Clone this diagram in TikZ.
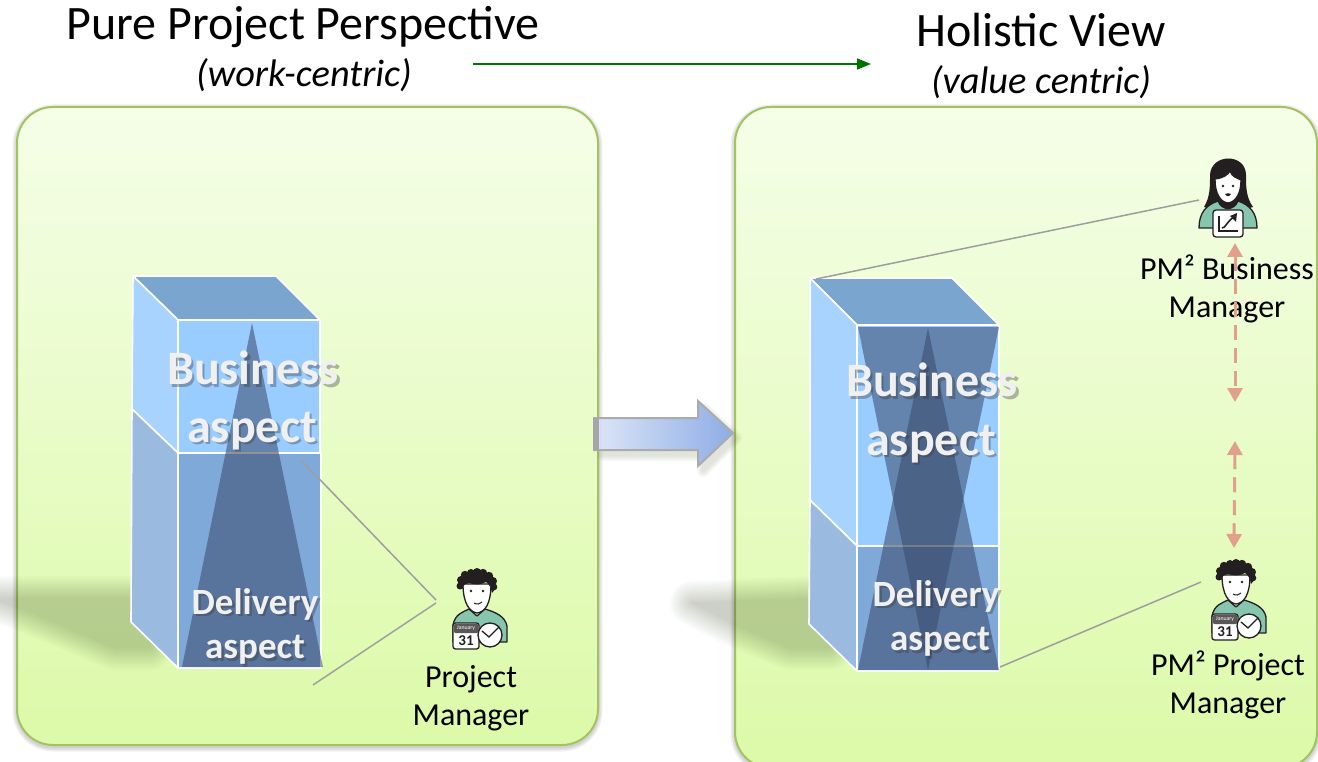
\documentclass[tikz,border=0pt]{standalone}
\usepackage{fontspec}
\setmainfont{Carlito}
\usetikzlibrary{arrows.meta}
\newcommand{\fsz}[1]{\fontsize{#1}{#1}\selectfont}
\definecolor{panelline}{HTML}{A3C262}
\definecolor{paneltop}{HTML}{F5FEE8}
\definecolor{panelbot}{HTML}{DCFAA8}
\definecolor{topface}{HTML}{7AA5CF}
\definecolor{leftup}{HTML}{A9D3FF}
\definecolor{frontup}{HTML}{99CCFF}
\definecolor{frontlow}{HTML}{7FA9D9}
\definecolor{leftlow}{HTML}{9ABBDF}
\definecolor{tri}{HTML}{3A496B}
\definecolor{teal}{HTML}{86C5AE}
\definecolor{ink}{HTML}{231F20}
\definecolor{pinkish}{HTML}{E0A08C}
\definecolor{arrowa}{HTML}{DCE6F6}
\definecolor{arrowb}{HTML}{8EADE6}
\definecolor{shadowtint}{HTML}{2A3A10}
\tikzset{
  panel/.style={draw=panelline,line width=2pt,rounded corners=36pt,top color=paneltop,bottom color=panelbot},
  face/.style={draw=white,line width=1.6pt,line join=round},
  triangleface/.style={fill=tri,fill opacity=.55},
  gline/.style={draw=black!38,line width=1.5pt},
  linkarrow/.style={draw=pinkish,line width=3pt,dash pattern=on 15pt off 8pt,{Triangle[length=14pt,width=15pt]}-{Triangle[length=14pt,width=15pt]}},
  plain/.style={text=black,align=center,inner sep=0pt},
  title/.style={plain,font=\fsz{48}},
  subtitle/.style={plain,font=\fsz{38.4}\itshape},
  lab/.style={plain,font=\fsz{32},text depth=0pt},
  aspect/.style={inner sep=0pt,align=center,font=\bfseries\fsz{#1}},
  iconline/.style={draw=ink,line width=1.3pt,line join=round},
}
% soft shadow: stacked translucent groups (fill and stroke count once per layer)
\newcommand{\softfill}[3]{%
  \foreach \w in {#3}{\begin{scope}[transparency group,opacity=#1]\fill[shadowtint,draw=shadowtint,line width=\w pt,line join=round] #2;\end{scope}}}
% aspect text with drop shadow
\newcommand{\aspecttext}[4]{%
  \node[aspect=#3,text=black!80,opacity=.35] (#1s) at ([shift={(2.5pt,-2.5pt)}]#2) {#4};
  \node[aspect=#3,text=white!94!black] (#1) at (#2) {#4};}
% the project manager figure, (0,0) at the head centre
\newcommand{\manicon}[3]{%
\begin{scope}[shift={(#1,#2)}]
  \fill[teal,iconline] (-24,50) -- (-24,33) .. controls (-22,22) and (-14,20) .. (-8,17) -- (0,24) -- (8,17) .. controls (18,20) and (28,24) .. (30,34) -- (30,50) -- cycle;
  \fill[white,iconline] (-14,-8) .. controls (-14,12) and (-7,20) .. (0,21) .. controls (8,20) and (14,12) .. (14,-8) -- cycle;
  \fill[ink] (-14,-3) .. controls (-15,-8) and (-10,-8) .. (-8,-9) .. controls (-3,-7) and (4,-7) .. (9,-10) .. controls (12,-8) and (14,-5) .. (15,1) -- (19,-4) -- (19,-12) -- (8,-20) -- (-10,-18) -- (-18,-8) -- cycle;
  \fill[ink] (-17,-6) circle (3.5) (-16,-12) circle (4) (-12,-17) circle (4.2) (-6,-19) circle (4) (0,-20) circle (4) (6,-19) circle (4.2) (12,-16) circle (4.2) (16,-11) circle (4) (17,-5) circle (3.3);
  \fill[ink] (-6,-1) circle (1.4) (6,-1) circle (1.4);
  \draw[ink,line width=1pt] (-3,11) .. controls (0,13) and (3,12) .. (5,10);
  \fill[white,iconline,rounded corners=2.5pt] (-24,31) rectangle (2,57);
  \fill[ink!75,rounded corners=1pt] (-23,32) rectangle (1,41);
  \node[inner sep=0pt,text=white,font=\fsz{5.8}] (#3m) at (-11,36.5) {January};
  \node[inner sep=0pt,text=ink,font=\bfseries\fsz{15}] (#3d) at (-11,49) {31};
  \fill[white,iconline] (13,43) circle (12);
  \draw[ink,line width=1.3pt,line cap=round] (5,39) -- (12,45) -- (22,35);
\end{scope}}
\begin{document}
\begin{tikzpicture}[x=1pt,y=-1pt]
\useasboundingbox (0,0) rectangle (1318,762);
\fill[white] (0,0) rectangle (1318,762);
% panel shadows
\foreach \w in {9,6,3}{\draw[black,opacity=.06,line width=\w pt,rounded corners=36pt] (17,109) rectangle (598,747);}
\foreach \w in {9,6,3}{\draw[black,opacity=.06,line width=\w pt,rounded corners=36pt] (735,109) rectangle (1317,770);}
% panels
\path[panel] (17,107) rectangle (598,745);
\path[panel] (735,107) rectangle (1317,768);
% box shadows
\softfill{.018}{(-10,598) -- (150,598) -- (150,648) -- (115,648) -- (30,612) -- cycle}{44,40,36,32,28,24,20,16,12,8,4,1}
\softfill{.018}{(692,603) -- (830,598) -- (830,648) -- (790,648) -- (735,625) -- cycle}{44,40,36,32,28,24,20,16,12,8,4,1}
% titles
\node[title] (t1) at (303,27) {Pure Project Perspective};
\node[subtitle] (t1b) at (304,75) {(work-centric)};
\node[title] (t2) at (1041,30) {Holistic View};
\node[subtitle] (t2b) at (1041,82) {(value centric)};
% green arrow
\coordinate (ga) at (473,64);
\coordinate (gb) at (871,64);
\draw[draw=green!45!black,line width=1.5pt,-{Triangle[length=14pt,width=11pt]}] (ga) -- (gb);
% left box
\path[face,fill=topface] (133,276) -- (276,276) -- (320,320) -- (178,320) -- cycle;
\path[face,fill=leftup] (133,276) -- (178,320) -- (178,453) -- (132,409) -- cycle;
\path[face,fill=leftlow] (132,409) -- (178,453) -- (178,668) -- (131,622) -- cycle;
\path[face,fill=frontup] (178,320) rectangle (320,453);
\path[face,fill=frontlow] (178,453) rectangle (321,668);
\fill[triangleface] (252,323) -- (323,667) -- (182,667) -- cycle;
\draw[black!45,line width=1.2pt,opacity=.6] (226,453) -- (278,453);
% right box
\path[face,fill=topface] (810,278) -- (952,278) -- (999,325) -- (857,325) -- cycle;
\path[face,fill=leftup] (810,278) -- (857,325) -- (857,546) -- (810,500) -- cycle;
\path[face,fill=leftlow] (810,500) -- (857,546) -- (857,671) -- (809,624) -- cycle;
\path[face,fill=frontup] (857,325) rectangle (999,546);
\path[face,fill=frontlow] (857,546) rectangle (999,671);
\fill[triangleface] (858,327) -- (999,327) -- (928,670) -- cycle;
\fill[triangleface] (928,328) -- (999,670) -- (858,670) -- cycle;
\draw[black!45,line width=1.2pt,opacity=.5] (883,546) -- (973,546);
% aspect labels
\aspecttext{ba1}{253,368}{48}{Business}
\aspecttext{ba2}{252,431}{48}{aspect}
\aspecttext{da1}{255,604}{37}{Delivery}
\aspecttext{da2}{255,650}{37}{aspect}
\aspecttext{ba3}{932,380}{48}{Business}
\aspecttext{ba4}{931,444}{48}{aspect}
\aspecttext{da3}{936,596}{37}{Delivery}
\aspecttext{da4}{940,642}{37}{aspect}
% big arrow
\softfill{.035}{(603,425) -- (703,425) -- (703,408) -- (736,438) -- (703,471) -- (703,455) -- (603,455) -- cycle}{12,9,6,3}
\path[draw=black!33,line width=2pt,line join=miter,left color=arrowa,right color=arrowb] (594,418) -- (698,418) -- (698,401) -- (733,433) -- (698,466) -- (698,450) -- (594,450) -- cycle;
\fill[black!35] (593,418) rectangle (599,450);
\fill[white!85!blue] (600,419) rectangle (601.5,449);
% icons
\manicon{477}{592}{ml}
\manicon{1236}{583}{mr}
% woman
\begin{scope}[shift={(1228,187)}]
  \fill[ink] (-24,20) .. controls (-18,10) and (-18,0) .. (-18,-12) .. controls (-17,-34) and (18,-34) .. (18,-12) .. controls (18,0) and (18,10) .. (25,20) -- (10,24) -- (-10,24) -- cycle;
  \fill[teal,iconline] (-29,41) .. controls (-29,26) and (-22,18) .. (-10,14) .. controls (-6,24) and (6,24) .. (10,14) .. controls (22,18) and (29,26) .. (29,41) -- cycle;
  \fill[white,iconline] (-13,-8) .. controls (-5,-9) and (0,-12) .. (2,-16) .. controls (4,-10) and (9,-9) .. (13,-7) .. controls (13,6) and (8,15) .. (0,16) .. controls (-8,15) and (-13,6) .. (-13,-8) -- cycle;
  \fill[ink] (-5,-1) circle (1.3) (5,-1) circle (1.3);
  \fill[ink] (-3,7) .. controls (-1,6) and (1,6) .. (3,7) .. controls (1,10) and (-1,10) .. (-3,7) -- cycle;
  \fill[white,iconline,rounded corners=3pt] (-15,23) rectangle (15,50);
  \draw[ink,line width=1.6pt] (-9,29) -- (-9,44) -- (10,44);
  \draw[ink,line width=1.6pt] (-6,41) .. controls (-2,41) and (-2,35) .. (6,30);
  \fill[ink] (9,26) -- (8,35) -- (2,29) -- cycle;
\end{scope}
% person labels
\node[lab] (pm1) at (471,695) {Project\\[6pt]Manager};
\node[lab] (bm) at (1227,286.5) {PM² Business\\[6pt]Manager};
\node[lab] (pm2) at (1228,682) {PM² Project\\[6pt]Manager};
% connectors
\coordinate (l1) at (301,460);
\coordinate (l2) at (436,600);
\coordinate (l3) at (313,685);
\coordinate (l4) at (436,603);
\coordinate (r1) at (816,279);
\coordinate (r2) at (1199,200);
\coordinate (r3) at (1000,667);
\coordinate (r4) at (1201,582);
\draw[gline] (l1) -- (l2);
\draw[gline] (l3) -- (l4);
\draw[gline] (r1) -- (r2);
\draw[gline] (r3) -- (r4);
\coordinate (d1) at (1235,243);
\coordinate (d2) at (1235,402);
\coordinate (d3) at (1235,441);
\coordinate (d4) at (1234,548);
\draw[linkarrow] (d1) -- (d2);
\draw[linkarrow] (d3) -- (d4);
\end{tikzpicture}
\end{document}
